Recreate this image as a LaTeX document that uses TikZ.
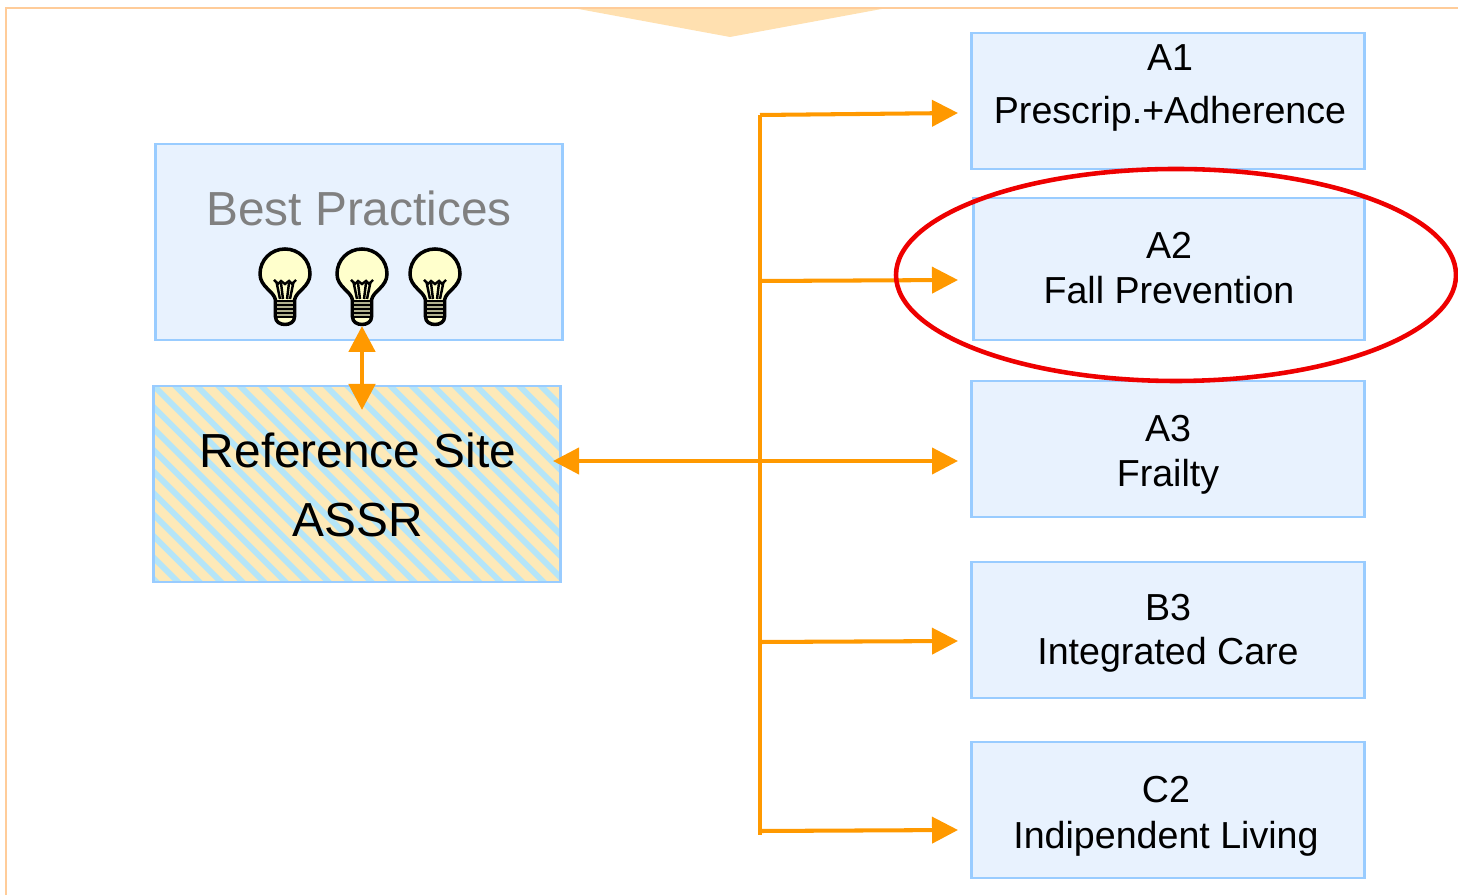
\documentclass[tikz,border=0pt]{standalone}
\usepackage{fontspec}
\setmainfont{Liberation Sans}
\usetikzlibrary{arrows.meta}
\definecolor{boxfill}{HTML}{E8F2FE}
\definecolor{boxline}{HTML}{99CCFF}
\definecolor{linkorange}{HTML}{FF9900}
\definecolor{framepeach}{HTML}{FFCC99}
\definecolor{wedgepeach}{HTML}{FFE0B0}
\definecolor{hatchsand}{HTML}{FDE9B8}
\definecolor{hatchblue}{HTML}{B5E5F8}
\definecolor{bulbyellow}{HTML}{FFFFCC}
\definecolor{ringred}{HTML}{EE0000}
\tikzset{
  topicbox/.style={draw=boxline, fill=boxfill, line width=0.75pt, minimum width=3.93cm, minimum height=1.36cm},
  topictext/.style={align=center, font=\fontsize{10.7}{12}\selectfont},
  bigtext/.style={align=center, font=\fontsize{13.6}{16}\selectfont},
  hatchbox/.style={draw=boxline, line width=0.75pt, fill=hatchsand, minimum width=4.07cm, minimum height=1.96cm,
    path picture={
      \foreach \s in {-4.2,-3.985,...,2.2}{
        \draw[hatchblue, line width=1.7pt] (\s,1) -- (\s+2,-1);
      }
    }},
  link/.style={draw=linkorange, line width=1.15pt},
  arrowlink/.style={link, -{Triangle[length=0.26cm,width=0.26cm]}},
  bothlink/.style={link, line width=1.4pt, {Triangle[length=0.26cm,width=0.26cm]}-{Triangle[length=0.26cm,width=0.26cm]}},
  pics/bulb/.style={code={
    \draw[fill=bulbyellow, line width=1pt, line join=round]
      (-0.095,-0.26) .. controls (-0.11,-0.17) and (-0.25,-0.13) .. (-0.25,0)
      .. controls (-0.25,0.14) and (-0.14,0.25) .. (0,0.25)
      .. controls (0.14,0.25) and (0.25,0.14) .. (0.25,0)
      .. controls (0.25,-0.13) and (0.11,-0.17) .. (0.095,-0.26) -- (0.095,-0.43)
      .. controls (0.095,-0.53) and (-0.095,-0.53) .. (-0.095,-0.43) -- cycle;
    \fill[bulbyellow!70!black] (-0.08,-0.42) rectangle (0.08,-0.28);
    \foreach \y in {-0.27,-0.31,-0.35,-0.39,-0.43}{
      \draw[line width=0.55pt] (-0.095,\y) -- (0.095,\y);
    }
    \draw[line width=0.7pt] (-0.05,-0.25) -- (-0.085,-0.08) (0.05,-0.25) -- (0.085,-0.08)
      (-0.02,-0.25) -- (-0.04,-0.09) (0.02,-0.25) -- (0.04,-0.09);
    \draw[line width=0.7pt] (-0.11,-0.06) -- (-0.07,-0.1) -- (-0.04,-0.07) -- (0,-0.1) -- (0.04,-0.07) -- (0.07,-0.1) -- (0.11,-0.06);
  }}
}
\begin{document}
\begin{tikzpicture}
  \useasboundingbox (0,0) rectangle (14.58,8.95);

  % outer frame
  \fill[wedgepeach] (5.73,8.87) -- (8.87,8.87) -- (7.30,8.58) -- cycle;
  \draw[framepeach, line width=0.75pt] (0.06,0) -- (0.06,8.87) -- (14.58,8.87);

  % left side
  \node[topicbox, minimum width=4.07cm, minimum height=1.96cm] (best) at (3.59,6.53) {};
  \node[bigtext, text=black!50] (bestlabel) at (3.59,6.87) {Best Practices};
  \node[hatchbox] (site) at (3.57,4.11) {};
  \node[bigtext] (sitelabel) at (3.58,4.10) {Reference Site\\[0.12cm]ASSR};
  \pic at (2.85,6.21) {bulb};
  \pic at (3.62,6.21) {bulb};
  \pic at (4.35,6.21) {bulb};

  % right side
  \node[topicbox] (a1) at (11.68,7.94) {};
  \node[topicbox, minimum width=3.91cm, minimum height=1.42cm] (a2) at (11.69,6.26) {};
  \node[topicbox] (a3) at (11.68,4.46) {};
  \node[topicbox] (b3) at (11.68,2.65) {};
  \node[topicbox] (c2) at (11.68,0.85) {};
  \node[topictext] (a1label) at (11.70,8.07) {A1\\[0.11cm]Prescrip.+Adherence};
  \node[topictext] (a2label) at (11.69,6.27) {A2\\[0.02cm]Fall Prevention};
  \node[topictext] (a3label) at (11.68,4.40) {A3\\[0.03cm]Frailty};
  \node[topictext] (b3label) at (11.68,2.62) {B3\\[0.02cm]Integrated Care};
  \node[topictext] (c2label) at (11.66,0.79) {C2\\[0.04cm]Indipendent Living};

  % bus and arrows
  \coordinate (bustop) at (7.60,7.80);
  \coordinate (busbottom) at (7.60,0.60);
  \coordinate (bus2) at (7.60,6.14);
  \coordinate (bus3) at (7.60,4.34);
  \coordinate (bus4) at (7.60,2.53);
  \coordinate (bus5) at (7.60,0.64);
  \coordinate (sitetip) at (5.53,4.34);
  \draw[link] (bustop) -- (busbottom);
  \draw[arrowlink] (bustop) -- (9.58,7.82);
  \draw[arrowlink] (bus2) -- (9.58,6.15);
  \draw[arrowlink] (bus3) -- (9.58,4.34);
  \draw[arrowlink] (bus4) -- (9.58,2.54);
  \draw[arrowlink] (bus5) -- (9.58,0.65);
  \draw[arrowlink] (bus3) -- (sitetip);
  \draw[bothlink] (3.62,5.69) -- (3.62,4.85);

  \draw[ringred, line width=1.3pt] (11.76,6.20) ellipse (2.80 and 1.06);
\end{tikzpicture}
\end{document}
